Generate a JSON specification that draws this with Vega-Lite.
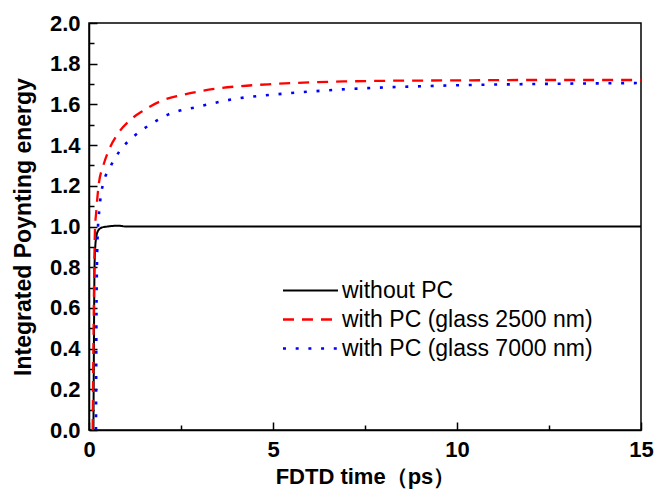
{
  "$schema": "https://vega.github.io/schema/vega-lite/v6.json",
  "width": 552,
  "height": 407,
  "autosize": "none",
  "padding": {"left": 89, "top": 23, "right": 24, "bottom": 59},
  "background": "white",
  "config": {
    "view": {"stroke": "black", "strokeWidth": 1.5},
    "font": "Liberation Sans",
    "axis": {
      "grid": false,
      "domainColor": "black",
      "domainWidth": 1.5,
      "tickColor": "black",
      "tickWidth": 1.5,
      "labelColor": "black",
      "labelFont": "Liberation Sans",
      "labelFontWeight": "bold",
      "labelFontSize": 22,
      "titleFont": "Liberation Sans",
      "titleFontWeight": "bold",
      "titleFontSize": 22,
      "titleColor": "black"
    }
  },
  "data": {
    "values": [
      {"series": "without PC", "t": 0.12, "e": 0},
      {"series": "without PC", "t": 0.13, "e": 0.3},
      {"series": "without PC", "t": 0.14, "e": 0.6},
      {"series": "without PC", "t": 0.15, "e": 0.8},
      {"series": "without PC", "t": 0.17, "e": 0.9},
      {"series": "without PC", "t": 0.2, "e": 0.95},
      {"series": "without PC", "t": 0.25, "e": 0.98},
      {"series": "without PC", "t": 0.35, "e": 0.995},
      {"series": "without PC", "t": 0.5, "e": 1.0},
      {"series": "without PC", "t": 0.8, "e": 1.004},
      {"series": "without PC", "t": 1.0, "e": 1.0},
      {"series": "without PC", "t": 15, "e": 1.0},
      {"series": "with PC (glass 2500 nm)", "t": 0.1, "e": 0},
      {"series": "with PC (glass 2500 nm)", "t": 0.12, "e": 0.4},
      {"series": "with PC (glass 2500 nm)", "t": 0.14, "e": 0.75},
      {"series": "with PC (glass 2500 nm)", "t": 0.16, "e": 0.97},
      {"series": "with PC (glass 2500 nm)", "t": 0.2, "e": 1.08},
      {"series": "with PC (glass 2500 nm)", "t": 0.26, "e": 1.2},
      {"series": "with PC (glass 2500 nm)", "t": 0.39, "e": 1.3},
      {"series": "with PC (glass 2500 nm)", "t": 0.55, "e": 1.38},
      {"series": "with PC (glass 2500 nm)", "t": 0.8, "e": 1.46},
      {"series": "with PC (glass 2500 nm)", "t": 1.1, "e": 1.52},
      {"series": "with PC (glass 2500 nm)", "t": 1.48, "e": 1.57},
      {"series": "with PC (glass 2500 nm)", "t": 2.0, "e": 1.62},
      {"series": "with PC (glass 2500 nm)", "t": 2.5, "e": 1.645},
      {"series": "with PC (glass 2500 nm)", "t": 3.4, "e": 1.676},
      {"series": "with PC (glass 2500 nm)", "t": 4.0, "e": 1.688},
      {"series": "with PC (glass 2500 nm)", "t": 5, "e": 1.7},
      {"series": "with PC (glass 2500 nm)", "t": 6, "e": 1.708},
      {"series": "with PC (glass 2500 nm)", "t": 7, "e": 1.713},
      {"series": "with PC (glass 2500 nm)", "t": 8, "e": 1.716},
      {"series": "with PC (glass 2500 nm)", "t": 10, "e": 1.718},
      {"series": "with PC (glass 2500 nm)", "t": 12, "e": 1.72},
      {"series": "with PC (glass 2500 nm)", "t": 15, "e": 1.72},
      {"series": "with PC (glass 7000 nm)", "t": 0.19, "e": 0},
      {"series": "with PC (glass 7000 nm)", "t": 0.2, "e": 0.5},
      {"series": "with PC (glass 7000 nm)", "t": 0.22, "e": 0.85},
      {"series": "with PC (glass 7000 nm)", "t": 0.24, "e": 0.98},
      {"series": "with PC (glass 7000 nm)", "t": 0.28, "e": 1.08},
      {"series": "with PC (glass 7000 nm)", "t": 0.32, "e": 1.15},
      {"series": "with PC (glass 7000 nm)", "t": 0.4, "e": 1.22},
      {"series": "with PC (glass 7000 nm)", "t": 0.57, "e": 1.29},
      {"series": "with PC (glass 7000 nm)", "t": 0.83, "e": 1.37},
      {"series": "with PC (glass 7000 nm)", "t": 1.2, "e": 1.44},
      {"series": "with PC (glass 7000 nm)", "t": 1.57, "e": 1.49},
      {"series": "with PC (glass 7000 nm)", "t": 2.15, "e": 1.55},
      {"series": "with PC (glass 7000 nm)", "t": 3.0, "e": 1.59},
      {"series": "with PC (glass 7000 nm)", "t": 4.0, "e": 1.628},
      {"series": "with PC (glass 7000 nm)", "t": 5, "e": 1.648},
      {"series": "with PC (glass 7000 nm)", "t": 6, "e": 1.663},
      {"series": "with PC (glass 7000 nm)", "t": 7, "e": 1.675},
      {"series": "with PC (glass 7000 nm)", "t": 8, "e": 1.683},
      {"series": "with PC (glass 7000 nm)", "t": 9, "e": 1.689},
      {"series": "with PC (glass 7000 nm)", "t": 10, "e": 1.694},
      {"series": "with PC (glass 7000 nm)", "t": 12, "e": 1.7},
      {"series": "with PC (glass 7000 nm)", "t": 15, "e": 1.705}
    ]
  },
  "mark": {"type": "line", "clip": true, "interpolate": "monotone"},
  "encoding": {
    "x": {
      "field": "t",
      "type": "quantitative",
      "scale": {"domain": [0, 15], "nice": false, "zero": false},
      "axis": {
        "title": "FDTD time（ps）",
        "values": [0, 2.5, 5, 7.5, 10, 12.5, 15],
        "labelExpr": "datum.value % 5 == 0 ? format(datum.value, 'd') : ''",
        "tickSize": {"condition": {"test": "datum.value % 5 != 0", "value": -5}, "value": -8},
        "labelPadding": 17,
        "labelFlush": false,
        "titlePadding": 6
      }
    },
    "y": {
      "field": "e",
      "type": "quantitative",
      "scale": {"domain": [0, 2.0], "nice": false},
      "axis": {
        "title": "Integrated Poynting energy",
        "titleFontSize": 23,
        "values": [0, 0.1, 0.2, 0.3, 0.4, 0.5, 0.6, 0.7, 0.8, 0.9, 1.0, 1.1, 1.2, 1.3, 1.4, 1.5, 1.6, 1.7, 1.8, 1.9, 2.0],
        "labelExpr": "round(datum.value * 10) % 2 == 0 ? format(datum.value, '.1f') : ''",
        "tickSize": {"condition": {"test": "round(datum.value * 10) % 2 == 1", "value": -5}, "value": -8},
        "labelPadding": 17,
        "labelFlush": false,
        "titlePadding": 14
      }
    },
    "color": {
      "field": "series",
      "type": "nominal",
      "scale": {
        "domain": ["without PC", "with PC (glass 2500 nm)", "with PC (glass 7000 nm)"],
        "range": ["#000000", "#ff0000", "#0000ff"]
      },
      "legend": {
        "title": null,
        "orient": "none",
        "legendX": 210,
        "legendY": 256,
        "padding": 0,
        "rowPadding": 5,
        "symbolType": "M-3.67,0H3.67",
        "symbolSize": 225,
        "labelFont": "Liberation Sans",
        "labelFontSize": 23,
        "labelColor": "black",
        "labelOffset": 20,
        "labelLimit": 400
      }
    },
    "strokeDash": {
      "field": "series",
      "type": "nominal",
      "scale": {
        "domain": ["without PC", "with PC (glass 2500 nm)", "with PC (glass 7000 nm)"],
        "range": [[1, 0], [11, 8], [3, 9.7]]
      }
    },
    "strokeWidth": {
      "field": "series",
      "type": "nominal",
      "scale": {
        "domain": ["without PC", "with PC (glass 2500 nm)", "with PC (glass 7000 nm)"],
        "range": [2, 2.6, 3]
      }
    }
  }
}
